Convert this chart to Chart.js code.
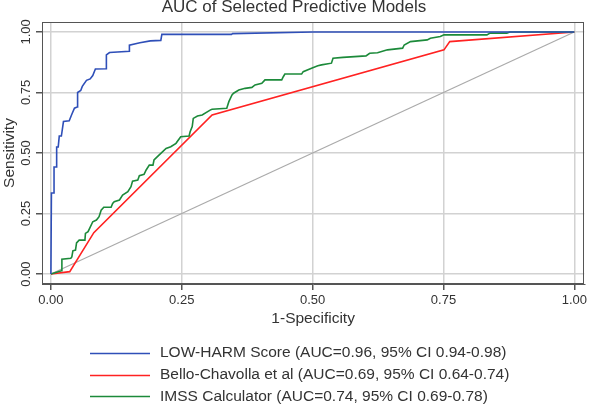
<!DOCTYPE html>
<html>
<head>
<meta charset="utf-8">
<script src="https://cdn.jsdelivr.net/npm/chart.js@4.4.0/dist/chart.umd.min.js"></script>
<style>
  html, body { margin: 0; padding: 0; background: #fff; }
  #wrap { width: 590px; height: 406px; }
</style>
</head>
<body>
<div id="wrap"><canvas id="roc" width="590" height="406"></canvas></div>
<script>
// ROC curve points (1-specificity, sensitivity)
const lowHarmX = [0, 0.001, 0.006, 0.006, 0.011, 0.011, 0.014, 0.016, 0.020, 0.022, 0.024, 0.035, 0.040, 0.045, 0.050, 0.051,
  0.057, 0.060, 0.068, 0.075, 0.080, 0.085, 0.106, 0.106, 0.112, 0.150, 0.150, 0.170, 0.190, 0.210, 0.212, 0.345, 0.347, 0.50, 1];
const lowHarmY = [0, 0.335, 0.335, 0.442, 0.442, 0.525, 0.525, 0.57, 0.57, 0.60, 0.63, 0.633, 0.66, 0.685, 0.69, 0.75,
  0.758, 0.775, 0.80, 0.806, 0.82, 0.847, 0.848, 0.905, 0.915, 0.92, 0.945, 0.955, 0.963, 0.965, 0.99, 0.99, 0.993, 1.0, 1];

const belloX = [0, 0.036, 0.082, 0.308, 0.751, 0.762, 1];
const belloY = [0, 0.010, 0.171, 0.657, 0.926, 0.960, 1];

const imssX = [0, 0.020, 0.021, 0.038, 0.040, 0.042, 0.047, 0.049, 0.054, 0.065, 0.066, 0.071, 0.074, 0.080, 0.087, 0.092,
  0.096, 0.101, 0.115, 0.118, 0.121, 0.131, 0.137, 0.147, 0.153, 0.156, 0.166, 0.169, 0.178, 0.182, 0.188, 0.195, 0.197,
  0.207, 0.220, 0.229, 0.239, 0.248, 0.264, 0.266, 0.270, 0.272, 0.280, 0.289, 0.305, 0.308, 0.336, 0.340, 0.346, 0.349,
  0.359, 0.371, 0.384, 0.390, 0.403, 0.409, 0.441, 0.444, 0.447, 0.479, 0.482, 0.498, 0.510, 0.517, 0.536, 0.539, 0.558,
  0.602, 0.609, 0.624, 0.643, 0.672, 0.675, 0.687, 0.719, 0.725, 0.744, 0.751, 0.833, 0.839, 0.871, 0.877, 1];
const imssY = [0, 0.014, 0.061, 0.065, 0.071, 0.096, 0.099, 0.129, 0.140, 0.140, 0.168, 0.175, 0.189, 0.216, 0.223, 0.237,
  0.264, 0.276, 0.276, 0.292, 0.299, 0.306, 0.326, 0.340, 0.361, 0.384, 0.388, 0.406, 0.412, 0.430, 0.450, 0.450, 0.471,
  0.492, 0.519, 0.526, 0.540, 0.567, 0.570, 0.588, 0.609, 0.643, 0.653, 0.657, 0.678, 0.681, 0.685, 0.712, 0.740, 0.747,
  0.760, 0.767, 0.771, 0.781, 0.788, 0.802, 0.802, 0.815, 0.826, 0.826, 0.836, 0.850, 0.860, 0.864, 0.871, 0.891, 0.895,
  0.901, 0.912, 0.914, 0.926, 0.933, 0.946, 0.960, 0.967, 0.974, 0.981, 0.988, 0.988, 0.995, 0.995, 1.0, 1];

const diagX = [0, 1];
const diagY = [0, 1];

const xTicks = [0, 0.25, 0.5, 0.75, 1];
const yTicks = [0, 0.25, 0.5, 0.75, 1];

const seriesLabels = [
  'LOW-HARM Score (AUC=0.96, 95% CI 0.94-0.98)',
  'Bello-Chavolla et al (AUC=0.69, 95% CI 0.64-0.74)',
  'IMSS Calculator (AUC=0.74, 95% CI 0.69-0.78)'
];

const FONT = '"Liberation Sans", Arial, sans-serif';
const TEXT = '#333333';

function pts(xs, ys) {
  return xs.map((x, i) => ({ x: x, y: ys[i] }));
}

// box round the plot
const framePlugin = {
  id: 'frame',
  beforeDatasetsDraw(chart) {
    const a = chart.chartArea, ctx = chart.ctx;
    ctx.save();
    ctx.strokeStyle = '#555';
    ctx.lineWidth = 1;
    ctx.strokeRect(Math.round(a.left) + 0.5, Math.round(a.top) + 0.5,
      Math.round(a.right - a.left) - 1, Math.round(a.bottom - a.top) - 1);
    ctx.restore();
  }
};

// vertical y tick labels, Stata style
const yLabelPlugin = {
  id: 'ylabels',
  afterDraw(chart) {
    const s = chart.scales.y, ctx = chart.ctx;
    ctx.save();
    ctx.font = '13px ' + FONT;
    ctx.fillStyle = TEXT;
    ctx.textAlign = 'center';
    ctx.textBaseline = 'middle';
    yTicks.forEach(v => {
      ctx.save();
      ctx.translate(26, s.getPixelForValue(v));
      ctx.rotate(-Math.PI / 2);
      ctx.fillText(v.toFixed(2), 0, 0);
      ctx.restore();
    });
    ctx.restore();
  }
};

// legend: one entry per row, below the axis title
const legendPlugin = {
  id: 'rowlegend',
  afterDraw(chart) {
    const ctx = chart.ctx;
    ctx.save();
    ctx.font = '15.5px ' + FONT;
    ctx.textBaseline = 'middle';
    ctx.textAlign = 'left';
    chart.data.datasets.forEach(ds => {
      if (ds.legendRow === undefined) return;
      const y = 353 + ds.legendRow * 21.7;
      ctx.strokeStyle = ds.borderColor;
      ctx.lineWidth = 1.5;
      ctx.beginPath();
      ctx.moveTo(90, Math.round(y) + 0.5);
      ctx.lineTo(150, Math.round(y) + 0.5);
      ctx.stroke();
      ctx.fillStyle = TEXT;
      ctx.fillText(ds.label, 160, y);
    });
    ctx.restore();
  }
};

new Chart(document.getElementById('roc'), {
  type: 'scatter',
  data: {
    datasets: [
      { label: seriesLabels[0], data: pts(lowHarmX, lowHarmY), borderColor: '#2f4fb8', legendRow: 0, order: 1 },
      { label: seriesLabels[1], data: pts(belloX, belloY), borderColor: '#ff2222', legendRow: 1, order: 3 },
      { label: seriesLabels[2], data: pts(imssX, imssY), borderColor: '#1c8a3a', legendRow: 2, order: 2 },
      { label: 'ref', data: pts(diagX, diagY), borderColor: '#aaaaaa', borderWidth: 1.2, order: 4 }
    ]
  },
  options: {
    responsive: false,
    animation: false,
    showLine: true,
    elements: {
      point: { radius: 0, hoverRadius: 0 },
      line: { borderWidth: 1.6, tension: 0, fill: false }
    },
    layout: { padding: { left: 0, right: 2, top: 0, bottom: 66 } },
    plugins: {
      legend: { display: false },
      tooltip: { enabled: false },
      title: {
        display: true,
        text: 'AUC of Selected Predictive Models',
        color: TEXT,
        font: { family: FONT, size: 17, weight: 'normal', lineHeight: '14px' },
        padding: { top: 0, bottom: 8 }
      }
    },
    scales: {
      x: {
        type: 'linear',
        min: -0.017,
        max: 1.019,
        afterBuildTicks: s => { s.ticks = xTicks.map(v => ({ value: v })); },
        afterFit: s => { s.height = 56; },
        ticks: {
          color: TEXT,
          padding: 3,
          font: { family: FONT, size: 13 },
          callback: v => Number(v).toFixed(2)
        },
        grid: { color: '#d2d2d2', lineWidth: 1.5, tickColor: '#555', tickLength: 6 },
        border: { display: true, color: '#555', width: 1 },
        title: {
          display: true,
          text: '1-Specificity',
          color: TEXT,
          font: { family: FONT, size: 15.5 },
          padding: { top: 0, bottom: 11.7 }
        }
      },
      y: {
        type: 'linear',
        min: -0.041,
        max: 1.041,
        afterBuildTicks: s => { s.ticks = yTicks.map(v => ({ value: v })); },
        afterFit: s => { s.width = 42; },
        ticks: { display: false },
        grid: { color: '#d2d2d2', lineWidth: 1.5, tickColor: '#555', tickLength: 6 },
        border: { display: true, color: '#555', width: 1 },
        title: {
          display: true,
          text: 'Sensitivity',
          color: TEXT,
          font: { family: FONT, size: 15.5 },
          padding: { top: 0.7, bottom: 0 }
        }
      }
    }
  },
  plugins: [framePlugin, yLabelPlugin, legendPlugin]
});
</script>
</body>
</html>
